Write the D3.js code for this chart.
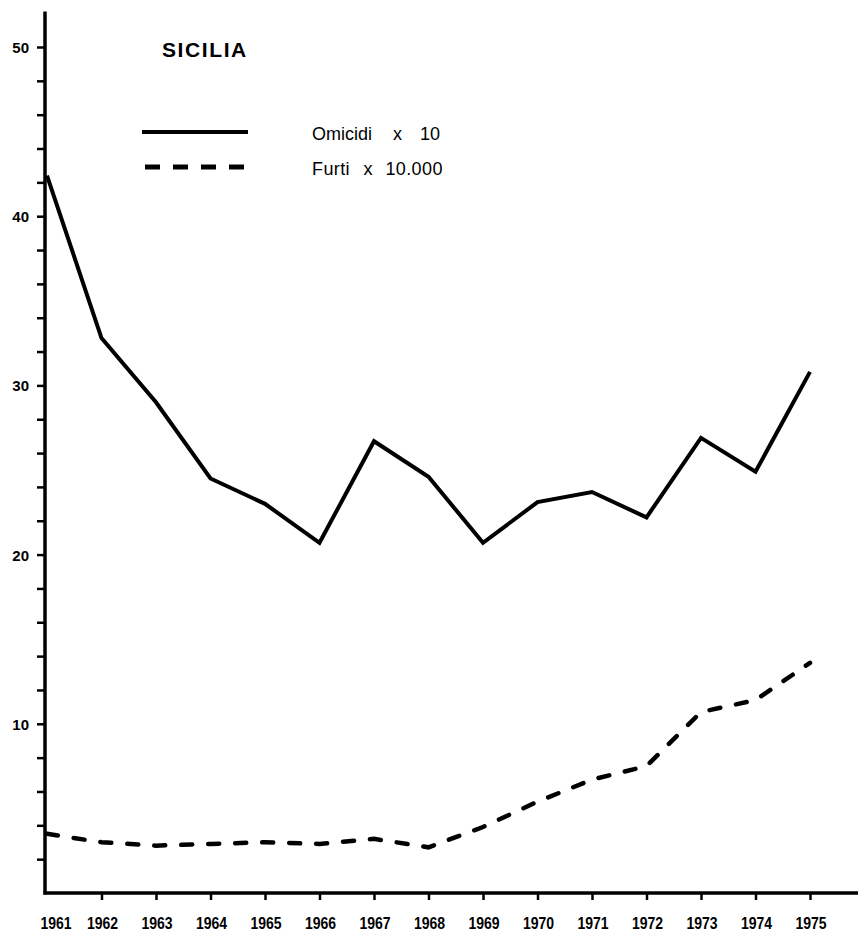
<!DOCTYPE html>
<html>
<head>
<meta charset="utf-8">
<script src="https://cdn.jsdelivr.net/npm/d3@7"></script>
<style>
  html, body { margin: 0; padding: 0; background: #fff; }
  svg { display: block; }
  text { font-family: "Liberation Sans", Arial, Helvetica, sans-serif; fill: #000; }
</style>
</head>
<body>
<svg id="chart" width="858" height="933"></svg>
<script>
// ---- data ----
const years = [1961, 1962, 1963, 1964, 1965, 1966, 1967, 1968, 1969, 1970, 1971, 1972, 1973, 1974, 1975];
const omicidi = [42.4, 32.8, 29.0, 24.5, 23.0, 20.7, 26.7, 24.6, 20.7, 23.1, 23.7, 22.2, 26.9, 24.9, 30.8];
const furti = [3.5, 3.0, 2.8, 2.9, 3.0, 2.9, 3.2, 2.7, 3.9, 5.4, 6.7, 7.5, 10.7, 11.4, 13.6];
const yTickValues = [2, 4, 6, 8, 10, 12, 14, 16, 18, 20, 22, 24, 26, 28, 30, 32, 34, 36, 38, 40, 42, 44, 46, 48, 50];
const yLabelValues = [10, 20, 30, 40, 50];
const title = "SICILIA";
const seriesNames = ["Omicidi", "Furti"];
const seriesFactors = ["10", "10.000"];

// ---- layout ----
const svg = d3.select("#chart");
const x = d3.scaleLinear().domain([1961, 1975]).range([47, 810]);
const y = d3.scaleLinear().domain([0, 50]).range([893, 47]);
const axisX = 45;

// y axis ticks via d3 axis
const yAxis = d3.axisLeft(y)
  .tickValues(yTickValues)
  .tickSize(8)
  .tickSizeOuter(0)
  .tickFormat(d => yLabelValues.includes(d) ? String(d) : "");
const gy = svg.append("g").attr("transform", `translate(${axisX},0)`).call(yAxis);
gy.select(".domain").remove();
gy.selectAll(".tick line").attr("stroke", "#000").attr("stroke-width", 2.5);
gy.selectAll(".tick text")
  .attr("x", -16)
  .attr("dy", "0.36em")
  .attr("font-size", null)
  .style("font-size", "15px")
  .style("font-weight", "bold")
  .style("font-family", "'Liberation Sans', Arial, sans-serif")
  .attr("fill", "#000");

// x axis ticks via d3 axis
const xAxis = d3.axisBottom(x)
  .tickValues(years.slice(1))
  .tickSize(7)
  .tickSizeOuter(0)
  .tickFormat("");
const gx = svg.append("g").attr("transform", `translate(0,${y(0)})`).call(xAxis);
gx.select(".domain").remove();
gx.selectAll(".tick line").attr("stroke", "#000").attr("stroke-width", 2.5);

// x labels (tall lettering)
svg.append("g").selectAll("text").data(years).join("text")
  .attr("transform", (d, i) => `translate(${x(d) + (i === 0 ? 9 : 1)},929) scale(1,1.15)`)
  .attr("text-anchor", "middle")
  .style("font-size", "14px")
  .style("font-weight", "bold")
  .text(d => d);

// axis lines
svg.append("line")
  .attr("x1", axisX).attr("x2", axisX)
  .attr("y1", y(52.1)).attr("y2", y(0) + 1.5)
  .attr("stroke", "#000").attr("stroke-width", 3.5);
svg.append("line")
  .attr("x1", axisX - 1.5).attr("x2", 858)
  .attr("y1", y(0)).attr("y2", y(0))
  .attr("stroke", "#000").attr("stroke-width", 3.5);

// series lines
const line = d3.line().x(d => x(d[0])).y(d => y(d[1]));
svg.append("path")
  .datum(years.map((yr, i) => [yr, omicidi[i]]))
  .attr("d", line)
  .attr("fill", "none")
  .attr("stroke", "#000")
  .attr("stroke-width", 4)
  .attr("stroke-linejoin", "miter");
svg.append("path")
  .datum(years.map((yr, i) => [yr, furti[i]]))
  .attr("d", line)
  .attr("fill", "none")
  .attr("stroke", "#000")
  .attr("stroke-width", 4.5)
  .attr("stroke-linecap", "round")
  .attr("stroke-dasharray", "11,16");

// title
svg.append("text")
  .attr("x", 162).attr("y", 57)
  .style("font-size", "21px")
  .style("font-weight", "bold")
  .style("letter-spacing", "1.6px")
  .text(title);

// legend
svg.append("line")
  .attr("x1", 142).attr("x2", 248).attr("y1", 132).attr("y2", 132)
  .attr("stroke", "#000").attr("stroke-width", 4);
svg.append("line")
  .attr("x1", 145).attr("x2", 248).attr("y1", 167).attr("y2", 167)
  .attr("stroke", "#000").attr("stroke-width", 5)
  .attr("stroke-dasharray", "15,13");

const leg1 = svg.append("text").attr("y", 140).style("font-size", "18px");
leg1.append("tspan").attr("x", 312).text(seriesNames[0]);
leg1.append("tspan").attr("x", 388).text(" x");
leg1.append("tspan").attr("x", 415).text(" " + seriesFactors[0]);

const leg2 = svg.append("text").attr("y", 175).style("font-size", "18px").style("letter-spacing", "0.4px");
leg2.append("tspan").attr("x", 312).text(seriesNames[1]);
leg2.append("tspan").attr("x", 358).text(" x");
leg2.append("tspan").attr("x", 380).text(" " + seriesFactors[1]);
</script>
</body>
</html>
